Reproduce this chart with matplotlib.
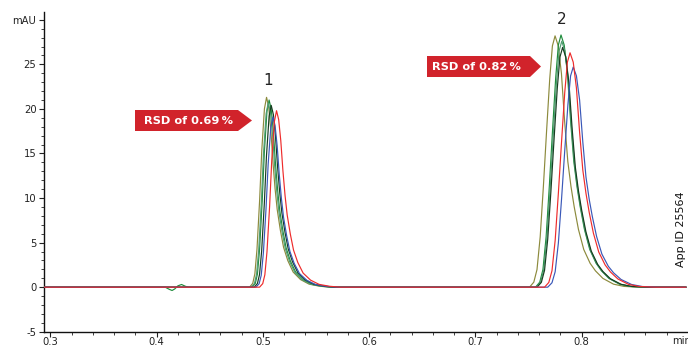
import numpy as np
import matplotlib
matplotlib.use('Agg')
from matplotlib import pyplot as plt
from matplotlib.patches import Polygon

# trace colours, in the order they elute
colors = ['#8c8a3c', '#1f8c3c', '#4f9c72', '#163d20', '#3a58b8', '#ee2b2b']

# peak 1 / peak 2 apex times (min) and heights (mAU) for each injection
rt1 = [0.5034, 0.5058, 0.5050, 0.5078, 0.5094, 0.5128]
h1 = [21.3, 21.0, 20.7, 20.4, 19.1, 19.8]
rt2 = [0.7749, 0.7805, 0.7812, 0.7820, 0.7920, 0.7890]
h2 = [28.2, 28.3, 27.6, 26.9, 24.7, 26.3]

# peak shape: offset from apex (min), relative height
off1 = [-0.016, -0.013, -0.011, -0.009, -0.0065, -0.0045, -0.002, 0.0, 0.002, 0.004,
        0.006, 0.008, 0.010, 0.013, 0.016, 0.020, 0.025, 0.032, 0.040, 0.050, 0.060]
rel1 = [0.0, 0.02, 0.07, 0.20, 0.46, 0.72, 0.94, 1.0, 0.95, 0.83,
        0.66, 0.52, 0.41, 0.30, 0.21, 0.14, 0.08, 0.04, 0.016, 0.005, 0.0]
off2 = [-0.024, -0.020, -0.017, -0.014, -0.011, -0.008, -0.005, -0.0025, 0.0, 0.003, 0.006,
        0.009, 0.012, 0.015, 0.018, 0.022, 0.027, 0.033, 0.038, 0.045, 0.055, 0.065, 0.080]
rel2 = [0.0, 0.02, 0.07, 0.20, 0.40, 0.62, 0.83, 0.96, 1.0, 0.96, 0.85,
        0.66, 0.50, 0.40, 0.32, 0.23, 0.15, 0.095, 0.065, 0.035, 0.012, 0.003, 0.0]

# small injection disturbance on the green trace
dist_t = [0.408, 0.412, 0.4145, 0.417, 0.420, 0.4234, 0.427, 0.430]
dist_v = [0.0, -0.25, -0.37, -0.2, 0.15, 0.3, 0.1, 0.0]

t_start, t_end = 0.294, 0.898

fig = plt.figure(figsize=(6.88, 3.47), dpi=100)
ax = fig.add_axes([0.064, 0.044, 0.936, 0.922])

for i, c in enumerate(colors):
    t = [t_start]
    v = [0.0]
    if i == 1:
        t += dist_t
        v += dist_v
    t += [rt1[i] + o for o in off1]
    v += [h1[i] * r for r in rel1]
    t += [rt2[i] + o for o in off2]
    v += [h2[i] * r for r in rel2]
    t += [t_end]
    v += [0.0]
    ax.plot(t, v, color=c, lw=0.85, zorder=3 + (i == 5))

ax.set_xlim(t_start, t_end)
ax.set_ylim(-5, 30.9)

ax.set_xticks([0.3, 0.4, 0.5, 0.6, 0.7, 0.8])
ax.set_xticklabels(['0.3', '0.4', '0.5', '0.6', '0.7', '0.8'])
ax.set_xticks(np.arange(0.3, 0.9, 0.02), minor=True)
ax.set_yticks([-5, 0, 5, 10, 15, 20, 25, 30])
ax.set_yticklabels(['-5', '0', '5', '10', '15', '20', '25', 'mAU'])
ax.set_yticks(np.arange(-5, 31, 1), minor=True)
ax.tick_params(which='major', length=3.5, width=0.8, labelsize=7.2, colors='#222222', pad=2)
ax.tick_params(axis='x', which='major', pad=0.5)
ax.tick_params(which='minor', length=2, width=0.6, colors='#222222')

for s in ['top', 'right']:
    ax.spines[s].set_visible(False)
for s in ['left', 'bottom']:
    ax.spines[s].set_linewidth(1.0)
    ax.spines[s].set_color('#111111')

fig.text(682 / 688, 1 - 344 / 347, 'min', fontsize=7.2, color='#222222', ha='center', va='baseline')

# peak numbers
ax.text(0.5050, 22.4, '1', fontsize=11, ha='center', va='bottom', color='#222222')
ax.text(0.7810, 29.2, '2', fontsize=11, ha='center', va='bottom', color='#222222')

# RSD arrows (pixel layout -> figure fraction)
def rsd_tag(x0, x1, xtip, ytop, ybot, xtext, label):
    W, H = 688.0, 347.0
    pts = [(x0, ytop), (x1, ytop), (xtip, (ytop + ybot) / 2), (x1, ybot), (x0, ybot)]
    pts = [(px / W, 1 - py / H) for px, py in pts]
    fig.patches.append(Polygon(pts, closed=True, transform=fig.transFigure,
                               facecolor='#d1232b', edgecolor='none', zorder=5))
    fig.text(xtext / W, 1 - (ytop + ybot) / 2 / H, label, color='white', fontsize=8.2,
             fontweight='bold', ha='center', va='center', zorder=6)

rsd_tag(135, 238, 252, 110, 131, 188, 'RSD of 0.69\u2009%')
rsd_tag(427, 530, 541, 56, 77, 476, 'RSD of 0.82\u2009%')

fig.text(681 / 688, 1 - 229 / 347, 'App ID 25564', rotation=90, fontsize=8,
         ha='center', va='center', color='#111111')

fig.savefig('out.png', dpi=100)
